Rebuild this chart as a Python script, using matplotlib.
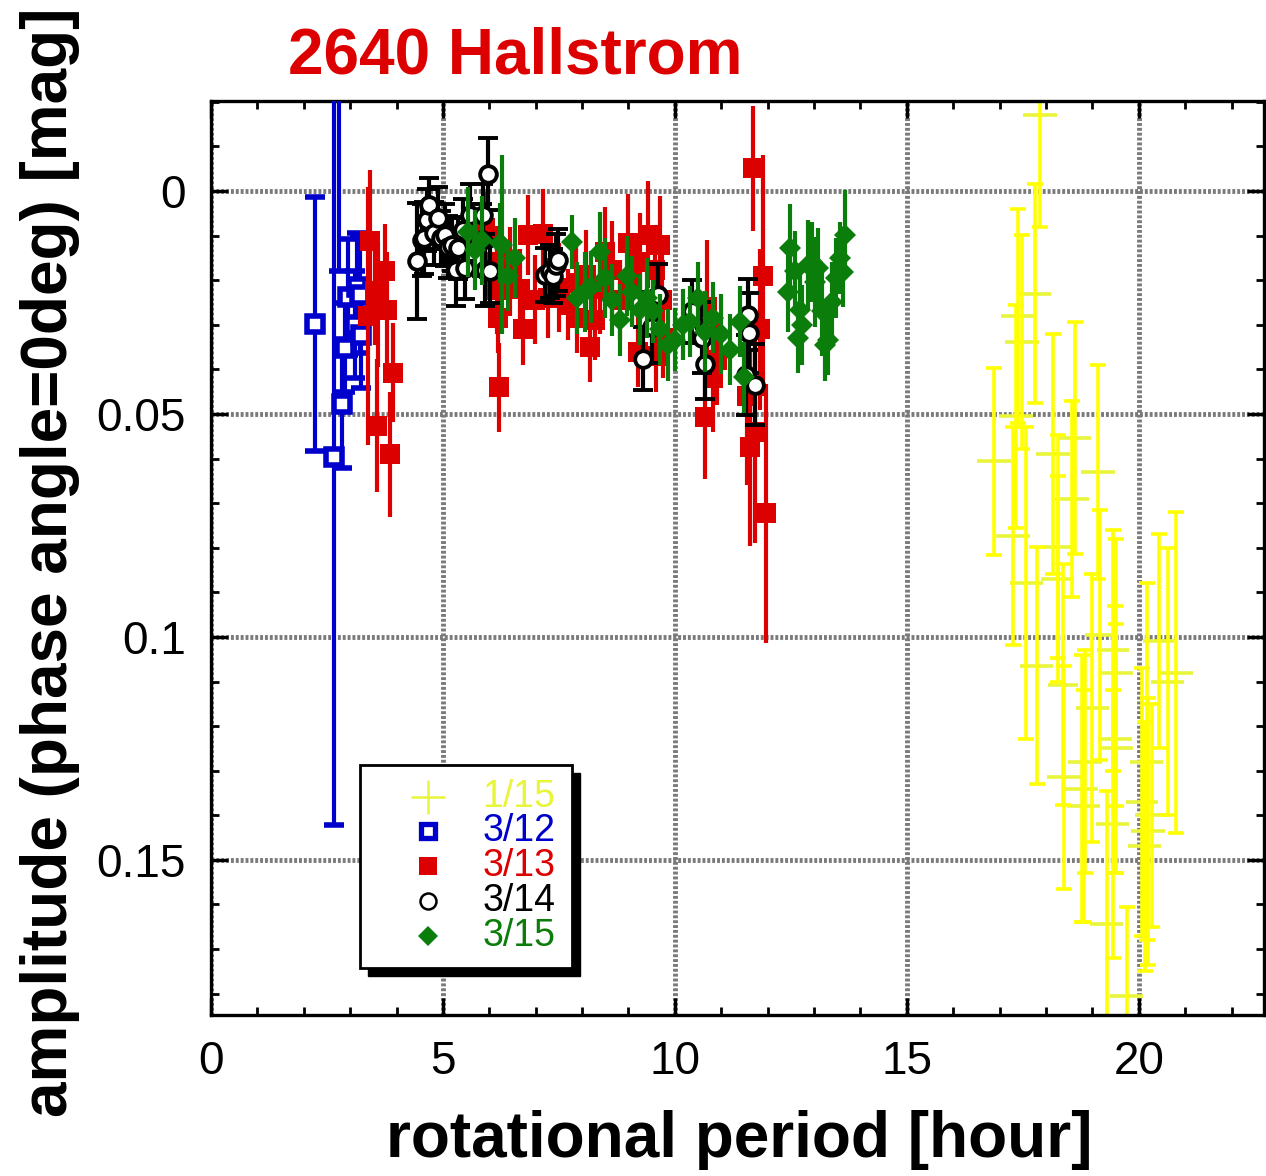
import matplotlib
matplotlib.use("Agg")
import matplotlib.pyplot as plt
from matplotlib.patches import Rectangle
from matplotlib.ticker import MultipleLocator, FuncFormatter

plt.rcParams['font.family'] = ['Liberation Sans', 'DejaVu Sans']

# ---- data: rotational period [hour], amplitude [mag], error ----
# 1/15 (yellow, with period error too)
jan15_x = [17.87, 17.76, 17.40, 17.48, 17.35, 16.88, 18.62, 18.15, 19.12, 18.56,
           17.29, 17.58, 17.80, 18.25, 18.25, 18.37, 18.39, 18.77, 18.81, 18.84,
           19.00, 19.16, 19.44, 19.52, 19.49, 19.52, 19.44, 19.31, 19.74, 20.07,
           20.28, 20.20, 20.13, 20.17, 20.43, 20.62, 20.80]
jan15_y = [-0.017, 0.023, 0.028, 0.0338, 0.0505, 0.0606, 0.0553, 0.059, 0.063, 0.069,
           0.0774, 0.088, 0.1065, 0.0798, 0.087, 0.1107, 0.1315, 0.134, 0.138, 0.128,
           0.116, 0.0996, 0.103, 0.108, 0.123, 0.125, 0.142, 0.1645, 0.1805, 0.137,
           0.140, 0.1436, 0.147, 0.128, 0.101, 0.110, 0.108]
jan15_xerr = [0.37, 0.35, 0.36, 0.36, 0.36, 0.36, 0.36, 0.36, 0.36, 0.36,
              0.36, 0.36, 0.35, 0.36, 0.36, 0.33, 0.36, 0.36, 0.36, 0.36,
              0.36, 0.31, 0.34, 0.35, 0.36, 0.36, 0.36, 0.36, 0.35, 0.35,
              0.36, 0.36, 0.36, 0.35, 0.34, 0.36, 0.36]
jan15_yerr = [0.025, 0.0245, 0.024, 0.024, 0.025, 0.021, 0.026, 0.027, 0.024, 0.022,
              0.0245, 0.035, 0.0266, 0.025, 0.023, 0.027, 0.025, 0.030, 0.026, 0.025,
              0.030, 0.028, 0.027, 0.030, 0.030, 0.028, 0.030, 0.030, 0.020, 0.030,
              0.025, 0.030, 0.028, 0.040, 0.024, 0.030, 0.036]

# 3/12 (blue)
mar12_x = [2.24, 2.65, 2.75, 2.82, 2.89, 2.95, 3.10, 3.15, 3.21, 3.23]
mar12_y = [0.0298, 0.0597, -0.025, 0.0477, 0.0351, 0.0237, 0.030, 0.0215, 0.0233, 0.0322]
mar12_err = [0.0285, 0.0825, 0.043, 0.0145, 0.010, 0.013, 0.012, 0.012, 0.013, 0.012]

# 3/13 (red)
mar13_x = [3.43, 3.38, 3.53, 3.60, 3.75, 3.79, 3.92, 3.58, 3.86,
           5.90, 6.16, 6.16, 6.18, 6.21, 6.44, 6.66, 6.72, 6.83, 6.98,
           7.15, 7.26, 7.50, 7.70, 7.86, 7.90, 8.08, 8.17, 8.27, 8.38,
           8.49, 8.65, 8.81, 8.99, 9.07, 9.20, 9.25, 9.42, 9.57, 9.68,
           9.72, 9.60, 9.75, 10.70, 10.65, 10.82, 10.90, 11.55, 11.62, 11.72,
           11.68, 11.90, 11.83, 11.97]
mar13_y = [0.0112, 0.028, 0.0225, 0.0255, 0.0179, 0.0266, 0.0407, 0.0526, 0.059,
           0.0083, 0.0159, 0.0221, 0.0284, 0.044, 0.018, 0.022, 0.031, 0.0098, 0.0244,
           0.0096, 0.024, 0.0217, 0.0255, 0.0206, 0.0284, 0.0188, 0.0349, 0.029, 0.022,
           0.0136, 0.0177, 0.0244, 0.0116, 0.0199, 0.036, 0.0159, 0.0098, 0.0177, 0.0121,
           0.0244, 0.037, 0.033, 0.026, 0.0506, 0.042, 0.038, 0.046, 0.0575, 0.054,
           -0.0051, 0.019, 0.031, 0.0723]
mar13_err = [0.016, 0.029, 0.012, 0.014, 0.0105, 0.013, 0.011, 0.015, 0.014,
             0.008, 0.008, 0.010, 0.008, 0.010, 0.010, 0.009, 0.008, 0.009, 0.010,
             0.010, 0.009, 0.010, 0.008, 0.009, 0.008, 0.010, 0.008, 0.009, 0.010,
             0.010, 0.011, 0.009, 0.011, 0.010, 0.008, 0.011, 0.012, 0.010, 0.011,
             0.010, 0.008, 0.009, 0.015, 0.014, 0.012, 0.010, 0.020, 0.022, 0.025,
             0.014, 0.027, 0.018, 0.029]

# 3/14 (black)
mar14_x = [4.44, 4.55, 4.60, 4.65, 4.70, 4.80, 4.89, 4.95, 5.04, 5.10,
           5.19, 5.28, 5.32, 5.43, 5.47, 5.58, 5.84, 5.86, 5.90, 5.97,
           6.02, 7.20, 7.30, 7.37, 7.43, 7.48, 9.31, 9.50, 9.63, 10.37,
           10.58, 10.65, 11.53, 11.57, 11.60, 11.72]
mar14_y = [0.0157, 0.011, 0.0105, 0.0065, 0.0031, 0.0095, 0.006, 0.0105, 0.0098, 0.0125,
           0.012, 0.0177, 0.0128, 0.0087, 0.0172, 0.0054, 0.011, 0.0054, 0.0177, -0.0038,
           0.018, 0.0188, 0.018, 0.019, 0.0166, 0.0154, 0.0376, 0.0306, 0.0233, 0.027,
           0.0329, 0.0387, 0.0412, 0.0277, 0.0318, 0.0434]
mar14_err = [0.013, 0.008, 0.008, 0.007, 0.006, 0.007, 0.007, 0.006, 0.007, 0.007,
             0.006, 0.008, 0.007, 0.007, 0.007, 0.007, 0.008, 0.007, 0.008, 0.008,
             0.007, 0.006, 0.006, 0.006, 0.007, 0.007, 0.007, 0.008, 0.007, 0.007,
             0.008, 0.008, 0.009, 0.008, 0.009, 0.009]

# 3/15 (green)
mar15_x = [5.54, 5.69, 5.85, 6.28, 6.23, 6.55, 6.40, 7.78, 7.90, 8.06,
           8.20, 8.38, 8.49, 8.64, 8.81, 8.97, 9.07, 9.25, 9.40, 9.53,
           9.68, 9.85, 10.00, 10.17, 10.32, 10.50, 10.65, 10.82, 11.00, 11.19,
           11.40, 11.50, 12.44, 12.48, 12.59, 12.65, 12.69, 12.74, 12.87, 12.95,
           13.02, 13.08, 13.17, 13.23, 13.30, 13.38, 13.47, 13.56, 13.62, 13.66]
mar15_y = [0.0092, 0.0132, 0.011, 0.012, 0.0116, 0.015, 0.019, 0.0114, 0.024, 0.0226,
           0.0215, 0.0136, 0.0195, 0.0244, 0.0289, 0.019, 0.0226, 0.0266, 0.024, 0.027,
           0.031, 0.0345, 0.0333, 0.030, 0.0293, 0.024, 0.0315, 0.0284, 0.032, 0.0356,
           0.0293, 0.0418, 0.0226, 0.0128, 0.018, 0.0329, 0.0266, 0.030, 0.0166, 0.0159,
           0.0204, 0.0172, 0.027, 0.0345, 0.0333, 0.0248, 0.0195, 0.015, 0.0181, 0.0098]
mar15_err = [0.010, 0.009, 0.010, 0.020, 0.009, 0.009, 0.008, 0.006, 0.008, 0.009,
             0.008, 0.009, 0.009, 0.008, 0.008, 0.009, 0.008, 0.008, 0.009, 0.007,
             0.008, 0.008, 0.007, 0.008, 0.008, 0.008, 0.009, 0.008, 0.009, 0.008,
             0.008, 0.008, 0.009, 0.010, 0.009, 0.008, 0.009, 0.009, 0.010, 0.009,
             0.010, 0.009, 0.010, 0.008, 0.008, 0.009, 0.009, 0.008, 0.008, 0.010]

legend_labels = ['1/15', '3/12', '3/13', '3/14', '3/15']

YELLOW = '#ffff00'
YELLOW_H = '#e8f53a'
BLUE = '#0000cc'
RED = '#dd0000'
GREEN = '#0a7d0a'

fig = plt.figure(figsize=(12.66, 11.76), dpi=100)
ax = fig.add_axes([211 / 1266, 161 / 1176, 1053 / 1266, 914 / 1176])

# 1/15: horizontal bars without caps, vertical bars with caps
ax.errorbar(jan15_x, jan15_y, xerr=jan15_xerr, fmt='none', ecolor=YELLOW_H,
            elinewidth=2.6, capsize=0, zorder=2)
ax.errorbar(jan15_x, jan15_y, yerr=jan15_yerr, fmt='none', ecolor=YELLOW,
            elinewidth=2.6, capsize=6, capthick=2.6, zorder=2)

ax.errorbar(mar12_x, mar12_y, yerr=mar12_err, fmt='s', color=BLUE, mfc='white',
            mec=BLUE, ms=11, mew=4, elinewidth=3, capsize=7, capthick=3, zorder=3)
ax.errorbar(mar13_x, mar13_y, yerr=mar13_err, fmt='s', color=RED, mfc=RED,
            mec=RED, ms=15, mew=0, elinewidth=3, capsize=7, capthick=3, zorder=4)
ax.errorbar(mar14_x, mar14_y, yerr=mar14_err, fmt='o', color='black', mfc='white',
            mec='black', ms=12, mew=2.8, elinewidth=3, capsize=7, capthick=3, zorder=5)
ax.errorbar(mar15_x, mar15_y, yerr=mar15_err, fmt='D', color=GREEN, mfc=GREEN,
            mec=GREEN, ms=11.5, mew=0, elinewidth=3, capsize=7, capthick=3, zorder=6)

ax.set_xlim(0, 22.7)
ax.set_ylim(0.1848, -0.0202)

ax.xaxis.set_major_locator(MultipleLocator(5))
ax.xaxis.set_minor_locator(MultipleLocator(1))
ax.yaxis.set_major_locator(MultipleLocator(0.05))
ax.yaxis.set_minor_locator(MultipleLocator(0.01))
ax.yaxis.set_major_formatter(FuncFormatter(lambda v, p: '%g' % round(v, 4)))

ax.tick_params(which='both', direction='in', top=True, right=True)
ax.tick_params(which='major', length=12, width=2.4, labelsize=33, pad=18)
ax.tick_params(which='minor', length=6, width=2)
for s in ax.spines.values():
    s.set_linewidth(2.4)

ax.grid(True, which='major', color='#7a7a7a', linewidth=3.5, linestyle=(0, (0.6, 0.4)))
ax.set_axisbelow(True)

# legend box with hard black shadow
leg_x, leg_y, leg_w, leg_h = 0.1412, 0.0514, 0.202, 0.2221
ax.add_patch(Rectangle((leg_x + 0.0076, leg_y - 0.0085), leg_w, leg_h,
                       transform=ax.transAxes, facecolor='black', edgecolor='black',
                       zorder=9, clip_on=False))
ax.add_patch(Rectangle((leg_x, leg_y), leg_w, leg_h, transform=ax.transAxes,
                       facecolor='white', edgecolor='black', linewidth=2,
                       zorder=10, clip_on=False))

row_y = [0.2385, 0.2013, 0.1630, 0.1247, 0.0864]
mk_x = 0.2057
txt_x = 0.2578
leg_styles = [
    dict(marker='+', ms=24, mew=1.8, color=YELLOW_H),
    dict(marker='s', ms=10, mew=3.8, color=BLUE, mfc='white', mec=BLUE),
    dict(marker='s', ms=13.5, mew=0, color=RED, mfc=RED),
    dict(marker='o', ms=11.5, mew=1.8, color='black', mfc='white', mec='black'),
    dict(marker='D', ms=10, mew=0, color=GREEN, mfc=GREEN),
]
leg_colors = [YELLOW_H, BLUE, RED, 'black', GREEN]
for yy, lab, st, c in zip(row_y, legend_labels, leg_styles, leg_colors):
    ax.plot([mk_x], [yy], linestyle='none', transform=ax.transAxes, zorder=11,
            clip_on=False, **st)
    ax.text(txt_x, yy, lab, color=c, fontsize=27, va='center', ha='left',
            transform=ax.transAxes, zorder=11)

fig.text(515 / 1266, 1 - 57 / 1176, '2640 Hallstrom', color=RED, fontsize=46,
         fontweight='bold', ha='center', va='center')
fig.text(739 / 1266, 1 - 1140 / 1176, 'rotational period [hour]', fontsize=46,
         fontweight='bold', ha='center', va='center')
fig.text(50 / 1266, 1 - 562 / 1176, 'amplitude (phase angle=0deg) [mag]', fontsize=46,
         fontweight='bold', ha='center', va='center', rotation=90)

fig.savefig('out.png', dpi=100)
